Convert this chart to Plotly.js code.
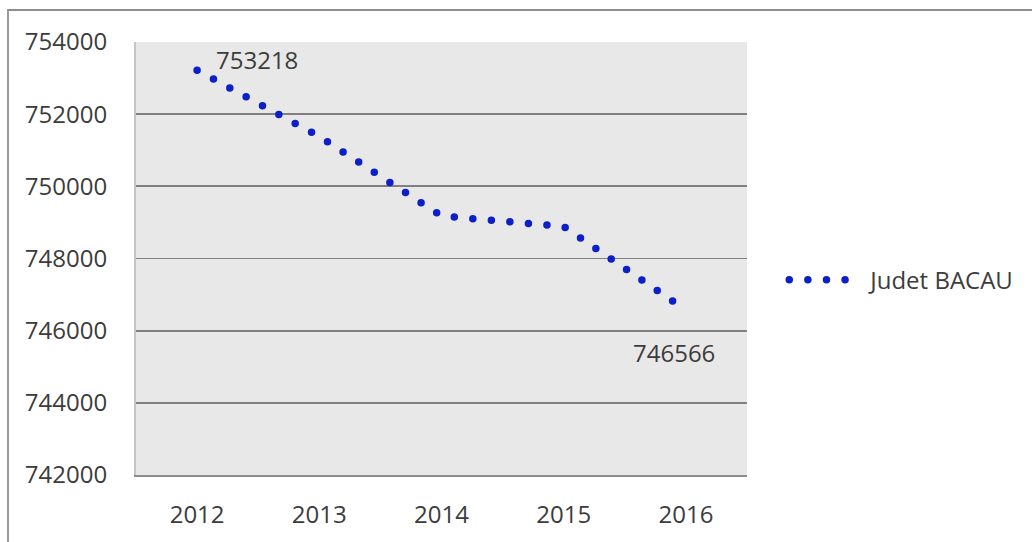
<!DOCTYPE html>
<html>
<head>
<meta charset="utf-8">
<script src="https://cdn.plot.ly/plotly-3.0.1.min.js"></script>
<style>
  html, body { margin: 0; padding: 0; background: #ffffff; }
  #wrap { position: relative; width: 1032px; height: 542px; overflow: hidden; }
  #chart { width: 1032px; height: 542px; }
  #frame { position: absolute; left: 7px; top: 9px; right: -10px; bottom: -10px;
           border-top: 2px solid #8c8c8c; border-left: 2px solid #9a9a9a; pointer-events: none; }
</style>
</head>
<body>
<div id="wrap">
  <div id="chart"></div>
  <div id="frame"></div>
</div>
<script>
// ---- data ----
var years = ['2012', '2013', '2014', '2015', '2016'];
var population = [753218, 751380, 749180, 748886, 746566];
var seriesName = 'Judet BACAU';
var yTicks = [742000, 744000, 746000, 748000, 750000, 752000, 754000];

var FONT = '"Open Sans", "DejaVu Sans", sans-serif';
var TXT = '#3c3c3c';
var BLUE = '#0c1fc8';

var trace = {
  type: 'scatter',
  mode: 'lines',
  x: years,
  y: population,
  name: seriesName,
  line: { color: BLUE, width: 7.5, dash: '0px,18.6px' },
  hoverinfo: 'x+y'
};

var first = 0;
var last = years.length - 1;
var annotations = [
  { x: first, y: population[first], xref: 'x', yref: 'y', text: String(population[first]),
    showarrow: false, xshift: 60, yshift: 11, font: { family: FONT, size: 24, color: TXT } },
  { x: last, y: population[last], xref: 'x', yref: 'y', text: String(population[last]),
    showarrow: false, xshift: -12, yshift: -42, font: { family: FONT, size: 24, color: TXT } }
];

var layout = {
  width: 1032,
  height: 542,
  margin: { l: 136, r: 282, t: 42, b: 67, pad: 0 },
  paper_bgcolor: '#ffffff',
  plot_bgcolor: '#e8e8e8',
  font: { family: FONT, size: 24, color: TXT },
  showlegend: true,
  legend: {
    x: 1.061, xanchor: 'left', y: 0.45, yanchor: 'middle',
    bgcolor: 'rgba(0,0,0,0)', borderwidth: 0,
    itemwidth: 76,
    font: { family: FONT, size: 24, color: TXT }
  },
  xaxis: {
    type: 'category',
    range: [-0.5, 4.5],
    showgrid: false,
    zeroline: false,
    showline: true, linecolor: '#8c8c8c', linewidth: 2,
    ticks: 'outside', ticklen: 17, tickcolor: 'rgba(0,0,0,0)',
    tickfont: { family: FONT, size: 24, color: TXT },
    fixedrange: true
  },
  yaxis: {
    range: [742000, 754000],
    tickvals: yTicks,
    ticktext: yTicks.map(String),
    showgrid: true, gridcolor: '#808080', gridwidth: 1.8,
    zeroline: false,
    showline: true, linecolor: '#c4c4c4', linewidth: 2,
    ticks: 'outside', ticklen: 22, tickcolor: 'rgba(0,0,0,0)',
    tickfont: { family: FONT, size: 24, color: TXT },
    fixedrange: true
  },
  annotations: annotations
};

Plotly.newPlot('chart', [trace], layout, { displayModeBar: false, staticPlot: true }).then(function (gd) {
  // round dots for the dotted series line
  gd.querySelectorAll('.scatterlayer .js-line').forEach(function (p) {
    p.style.strokeLinecap = 'round';
  });
  gd.querySelectorAll('.legend .js-line').forEach(function (p) {
    p.style.strokeLinecap = 'round';
    p.setAttribute('d', 'M5,0h57');
  });
});
</script>
</body>
</html>
